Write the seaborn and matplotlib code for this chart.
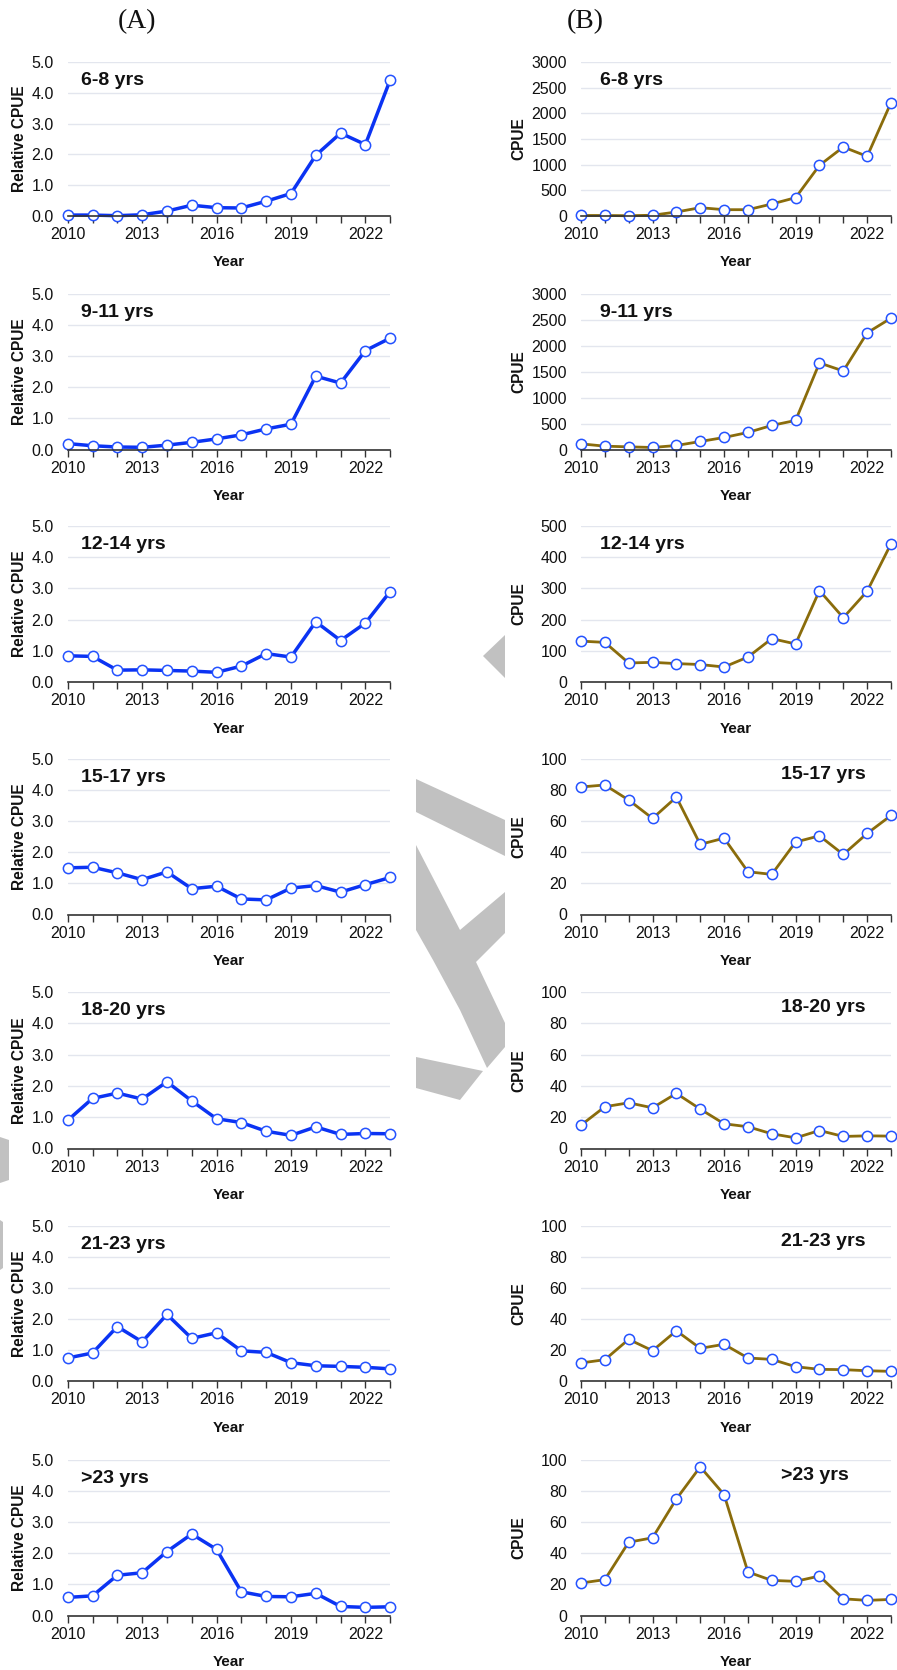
import numpy as np
import pandas as pd
import matplotlib
matplotlib.use("Agg")
import matplotlib.pyplot as plt
from matplotlib.patches import Polygon
from matplotlib.ticker import FormatStrFormatter
import seaborn as sns

# ---------------- data ----------------
years = list(range(2010, 2024))
age_groups = ["6-8 yrs", "9-11 yrs", "12-14 yrs", "15-17 yrs",
              "18-20 yrs", "21-23 yrs", ">23 yrs"]

# (A) relative CPUE by age group
rel_6_8 = [0.03, 0.03, 0.01, 0.04, 0.16, 0.35, 0.27, 0.26, 0.48, 0.73, 1.97, 2.69, 2.32, 4.42]
rel_9_11 = [0.19, 0.12, 0.08, 0.07, 0.14, 0.23, 0.34, 0.47, 0.66, 0.81, 2.35, 2.13, 3.17, 3.57]
rel_12_14 = [0.84, 0.82, 0.38, 0.39, 0.37, 0.35, 0.31, 0.51, 0.91, 0.80, 1.93, 1.33, 1.89, 2.90]
rel_15_17 = [1.50, 1.52, 1.34, 1.12, 1.37, 0.83, 0.91, 0.50, 0.47, 0.85, 0.93, 0.72, 0.96, 1.19]
rel_18_20 = [0.90, 1.60, 1.77, 1.58, 2.13, 1.52, 0.95, 0.83, 0.55, 0.42, 0.69, 0.45, 0.48, 0.47]
rel_21_23 = [0.74, 0.90, 1.75, 1.26, 2.14, 1.37, 1.55, 0.97, 0.92, 0.59, 0.49, 0.47, 0.44, 0.39]
rel_gt23 = [0.58, 0.63, 1.29, 1.37, 2.05, 2.61, 2.12, 0.76, 0.61, 0.60, 0.71, 0.29, 0.26, 0.28]

# (B) CPUE by age group
cpue_6_8 = [10, 10, 5, 15, 78, 162, 123, 123, 234, 357, 987, 1344, 1162, 2208]
cpue_9_11 = [109, 64, 51, 39, 77, 154, 231, 328, 463, 559, 1665, 1510, 2243, 2526]
cpue_12_14 = [131, 127, 61, 63, 59, 56, 48, 80, 139, 122, 293, 206, 291, 443]
cpue_15_17 = [82.0, 83.3, 73.6, 61.8, 75.5, 45.1, 49.1, 27.5, 25.8, 46.6, 50.6, 38.6, 52.1, 63.7]
cpue_18_20 = [14.9, 26.7, 29.2, 26.0, 35.2, 25.2, 15.8, 13.9, 9.4, 6.8, 11.5, 7.7, 8.1, 7.9]
cpue_21_23 = [11.6, 13.7, 26.8, 19.5, 32.3, 21.0, 23.6, 14.8, 13.9, 9.2, 7.5, 7.3, 6.6, 6.2]
cpue_gt23 = [20.8, 23.0, 47.0, 49.8, 74.7, 95.3, 77.5, 27.9, 22.5, 21.9, 25.3, 10.7, 9.7, 10.3]

rel_series = [rel_6_8, rel_9_11, rel_12_14, rel_15_17, rel_18_20, rel_21_23, rel_gt23]
cpue_series = [cpue_6_8, cpue_9_11, cpue_12_14, cpue_15_17, cpue_18_20, cpue_21_23, cpue_gt23]

cpue_ymax = [3000, 3000, 500, 100, 100, 100, 100]
cpue_step = [500, 500, 100, 20, 20, 20, 20]

# ---------------- style ----------------
sns.set_theme(style="white")
plt.rcParams["font.family"] = ["Liberation Sans", "DejaVu Sans"]

BLUE = "#0B33F3"
OLIVE = "#8A6C0B"
MARKER_EDGE = "#2452FF"
GRID = "#E3E6EE"
AXIS = "#333333"

W, H = 897, 1670
fig = plt.figure(figsize=(W / 100, H / 100), dpi=100)

# panel geometry in pixels (top of plotting area, bottom of plotting area)
row_top = [62, 293.5, 526, 759, 992, 1225.5, 1459.5]
row_bot = [216, 449.5, 682, 914.5, 1148.5, 1381, 1615.5]
left_x0, left_w = 67.7, 322.5
right_x0, right_w = 581, 310


def add_axes(x0, w, top, bot):
    return fig.add_axes([x0 / W, 1 - bot / H, w / W, (bot - top) / H])


def style_axes(ax, ymax, step, fmt, ylabel, ylabel_x):
    ax.set_xlim(2010, 2023)
    ax.set_ylim(0, ymax)
    ax.set_yticks(np.arange(0, ymax + step / 2, step))
    ax.yaxis.set_major_formatter(FormatStrFormatter(fmt))
    ax.set_xticks(years)
    ax.set_xticklabels([str(y) if (y - 2010) % 3 == 0 else "" for y in years])
    ax.tick_params(axis="x", length=5, width=1, color=AXIS, pad=3,
                   labelsize=11.5, labelcolor="#111111", bottom=True)
    ax.tick_params(axis="y", length=0, pad=10, labelsize=11.5, labelcolor="#111111")
    for side in ("left", "top", "right"):
        ax.spines[side].set_visible(False)
    ax.spines["bottom"].set_color(AXIS)
    ax.spines["bottom"].set_linewidth(1.2)
    ax.yaxis.grid(True, color=GRID, linewidth=1)
    ax.xaxis.grid(False)
    ax.set_axisbelow(True)
    ax.set_xlabel("Year", fontsize=11, fontweight="bold", color="#111111")
    ax.xaxis.set_label_coords(0.5, -0.30)
    ax.xaxis.label.set_va("center")
    ax.set_ylabel(ylabel, fontsize=11.2, fontweight="bold", color="#111111")
    ax.yaxis.set_label_coords(ylabel_x, 0.5)
    ax.yaxis.label.set_va("center")


def draw_series(ax, values, color, lw):
    df = pd.DataFrame({"Year": years, "value": values})
    sns.lineplot(data=df, x="Year", y="value", ax=ax, color=color,
                 linewidth=lw, marker="o", markersize=7.4,
                 markerfacecolor="white", markeredgecolor=MARKER_EDGE,
                 markeredgewidth=1.1)
    for line in ax.lines:
        line.set_clip_on(False)
        line.set_markerfacecolor("white")
        line.set_markeredgecolor(MARKER_EDGE)


for i, group in enumerate(age_groups):
    # (A) relative CPUE
    axl = add_axes(left_x0, left_w, row_top[i], row_bot[i])
    draw_series(axl, rel_series[i], BLUE, 2.5)
    style_axes(axl, 5, 1, "%.1f", "Relative CPUE", -0.151)
    axl.text(0.041, 0.88, group, transform=axl.transAxes, fontsize=14,
             fontweight="bold", ha="left", va="center", color="#111111")

    # (B) CPUE
    axr = add_axes(right_x0, right_w, row_top[i], row_bot[i])
    draw_series(axr, cpue_series[i], OLIVE, 2.0)
    style_axes(axr, cpue_ymax[i], cpue_step[i], "%d", "CPUE", -0.20)
    if i < 3:
        axr.text(0.061, 0.88, group, transform=axr.transAxes, fontsize=14,
                 fontweight="bold", ha="left", va="center", color="#111111")
    else:
        axr.text(0.645, 0.90, group, transform=axr.transAxes, fontsize=14,
                 fontweight="bold", ha="left", va="center", color="#111111")

# column headings
fig.text(137 / W, 1 - 22 / H, "(A)", fontsize=20, ha="center", va="center",
         family=["Liberation Serif", "DejaVu Serif"], color="#111111")
fig.text(585 / W, 1 - 22 / H, "(B)", fontsize=20, ha="center", va="center",
         family=["Liberation Serif", "DejaVu Serif"], color="#111111")

# grey decorative shapes in the gutter between the columns
shapes_px = [
    [(483, 656), (505, 635), (505, 678)],
    [(416, 779), (505, 820), (505, 856), (416, 812)],
    [(416, 845), (460, 930), (505, 892), (505, 933), (476, 962), (505, 1023),
     (505, 1047), (487, 1068), (460, 1010), (433, 960), (416, 930)],
    [(416, 1057), (483, 1071), (460, 1100), (416, 1088)],
    [(0, 1137), (9, 1140), (9, 1180), (0, 1183)],
    [(0, 1220), (3, 1222), (3, 1268), (0, 1270)],
]
for pts in shapes_px:
    frac = [(x / W, 1 - y / H) for x, y in pts]
    fig.add_artist(Polygon(frac, closed=True, transform=fig.transFigure,
                           facecolor="#C1C1C1", edgecolor="none", zorder=0))

fig.savefig("out.png", dpi=100)
